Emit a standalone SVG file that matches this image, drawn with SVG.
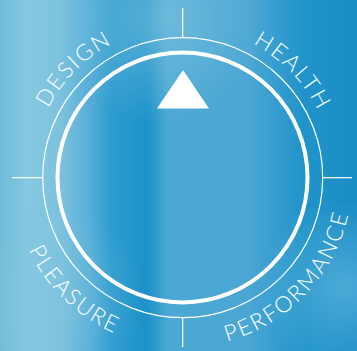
<svg xmlns="http://www.w3.org/2000/svg" width="357" height="351" viewBox="0 0 357 351">
  <defs>
    <linearGradient id="bg" x1="0" y1="0" x2="1" y2="0">
      <stop offset="0" stop-color="#6cbcd8"/>
      <stop offset="0.08" stop-color="#86c8e0"/>
      <stop offset="0.17" stop-color="#7cc2de"/>
      <stop offset="0.25" stop-color="#56aed8"/>
      <stop offset="0.31" stop-color="#2e9ccf"/>
      <stop offset="0.41" stop-color="#1c92c9"/>
      <stop offset="0.43" stop-color="#2a98cc"/>
      <stop offset="0.47" stop-color="#4ca8d4"/>
      <stop offset="0.7" stop-color="#4aa6d3"/>
      <stop offset="0.85" stop-color="#2094ca"/>
      <stop offset="1" stop-color="#1a8cc6"/>
    </linearGradient>
    <radialGradient id="glowTop" cx="0.45" cy="0.05" r="0.3">
      <stop offset="0" stop-color="#8ccae2" stop-opacity="0.55"/>
      <stop offset="1" stop-color="#8ccae2" stop-opacity="0"/>
    </radialGradient>
    <radialGradient id="glowBR" cx="0.97" cy="0.82" r="0.25">
      <stop offset="0" stop-color="#6cbce0" stop-opacity="0.6"/>
      <stop offset="1" stop-color="#6cbce0" stop-opacity="0"/>
    </radialGradient>
    <radialGradient id="glowBL" cx="0.12" cy="0.85" r="0.28">
      <stop offset="0" stop-color="#86c6e0" stop-opacity="0.45"/>
      <stop offset="1" stop-color="#86c6e0" stop-opacity="0"/>
    </radialGradient>
    <path id="pDesign" d="M36.6,216.6 A151,151 0 0 1 221.6,31.6"/>
    <path id="pHealth" d="M146,31 A151,151 0 0 1 327.7,219.1"/>
    <path id="pPleasure" d="M17.5,136.4 A170,170 0 0 0 229.4,340.9"/>
    <path id="pPerformance" d="M88.9,319.4 A170,170 0 0 0 319,76.2"/>
  </defs>
  <style>
    .ring { fill: none; stroke: #ffffff; }
    .tick { stroke: #ffffff; stroke-width: 1.2; }
    .lbl { fill: #ffffff; font-family: "Lato", "Open Sans", "Liberation Sans", sans-serif; font-weight: 300; font-size: 22.5px; letter-spacing: 2px; }
  </style>
  <g id="background">
    <rect width="357" height="351" fill="url(#bg)"/>
    <rect width="357" height="351" fill="url(#glowTop)"/>
    <rect width="357" height="351" fill="url(#glowBR)"/>
    <rect width="357" height="351" fill="url(#glowBL)"/>
  </g>
  <g id="connectors">
    <line class="tick" x1="182.7" y1="8" x2="182.7" y2="37.7"/>
    <line class="tick" x1="182.7" y1="317.7" x2="182.7" y2="347"/>
    <line class="tick" x1="12" y1="177.7" x2="42.7" y2="177.7"/>
    <line class="tick" x1="322.7" y1="177.7" x2="352" y2="177.7"/>
  </g>
  <g id="outer-ring">
    <circle class="ring" cx="182.7" cy="177.7" r="140" stroke-width="1.2"/>
  </g>
  <g id="inner-ring">
    <circle class="ring" cx="182.5" cy="177.5" r="125" stroke-width="4"/>
  </g>
  <g id="pointer">
    <polygon points="157,108.5 183,70 209,108.5" fill="#ffffff"/>
  </g>
  <g id="design">
    <text class="lbl"><textPath href="#pDesign" startOffset="50%" text-anchor="middle">DESIGN</textPath></text>
  </g>
  <g id="health">
    <text class="lbl"><textPath href="#pHealth" startOffset="50%" text-anchor="middle">HEALTH</textPath></text>
  </g>
  <g id="pleasure">
    <text class="lbl"><textPath href="#pPleasure" startOffset="50%" text-anchor="middle">PLEASURE</textPath></text>
  </g>
  <g id="performance">
    <text class="lbl"><textPath href="#pPerformance" startOffset="50%" text-anchor="middle">PERFORMANCE</textPath></text>
  </g>
</svg>
